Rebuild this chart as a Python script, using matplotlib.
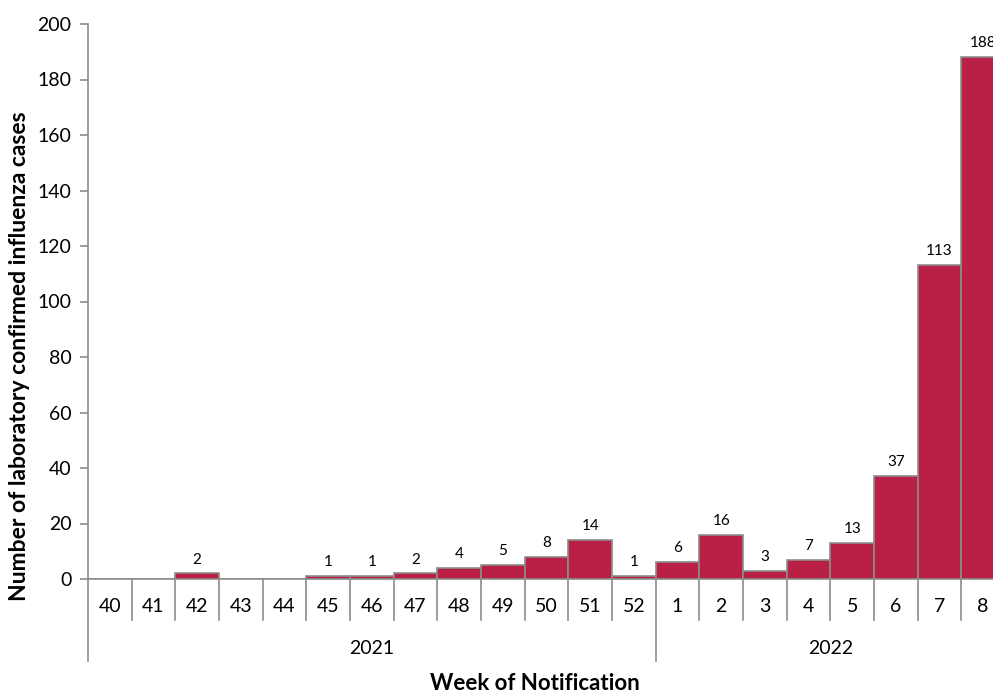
import matplotlib.pyplot as plt
from matplotlib.transforms import blended_transform_factory

# weekly counts of lab confirmed influenza, weeks 40/2021 .. 8/2022
weeks = ['40', '41', '42', '43', '44', '45', '46', '47', '48', '49', '50', '51', '52',
         '1', '2', '3', '4', '5', '6', '7', '8']
cases = [0, 0, 2, 0, 0, 1, 1, 2, 4, 5, 8, 14, 1, 6, 16, 3, 7, 13, 37, 113, 188]
years = ['2021', '2022']
year_start = [0, 13]   # index of first week in each year

plt.rcParams['font.family'] = ['Lato', 'DejaVu Sans']
GREY = '#8c8c8c'
BAR = '#BA1F45'

fig = plt.figure(figsize=(9.93, 6.92), dpi=100)
# axes runs past the right edge of the picture like the original (last bar is cut)
ax = fig.add_axes([88/993, 113/692, 917/993, 555/692])

x = list(range(len(weeks)))
ax.bar(x, cases, width=1.0, color=BAR, edgecolor=GREY, linewidth=1.2, zorder=3)
for xi, v in zip(x, cases):
  if v > 0:
    ax.annotate(str(v), (xi, v), xytext=(0, 5), textcoords='offset points',
                ha='center', va='bottom', fontsize=11)

ax.set_xlim(-0.5, len(weeks) - 0.5)
ax.set_ylim(0, 200)
ax.set_yticks(range(0, 201, 20))
ax.tick_params(axis='y', labelsize=14, color=GREY, length=6, width=1.2, pad=6)
ax.set_xticks([])
for s in ['top', 'right']:
  ax.spines[s].set_visible(False)
for s in ['left', 'bottom']:
  ax.spines[s].set_color(GREY)
  ax.spines[s].set_linewidth(1.2)

# two-level category axis drawn by hand
tr = blended_transform_factory(ax.transData, ax.transAxes)
h = 555.0
for xi, w in zip(x, weeks):
  ax.text(xi, -28/h, w, transform=tr, ha='center', va='center', fontsize=14)
for i in range(len(weeks) + 1):
  bottom = -41/h
  if i in year_start:
    bottom = -82/h
  ax.plot([i - 0.5, i - 0.5], [0, bottom], transform=tr, color=GREY, lw=1.2, clip_on=False)
ends = year_start[1:] + [len(weeks)]
for yname, a, b in zip(years, year_start, ends):
  ax.text((a + b - 1) / 2, -69/h, yname, transform=tr, ha='center', va='center', fontsize=14)

fig.text(535/993, 9/692, 'Week of Notification', ha='center', va='center',
         fontsize=16, fontweight='bold')
fig.text(20/993, 1 - 356/692, 'Number of laboratory confirmed influenza cases',
         rotation=90, ha='center', va='center', fontsize=16.5, fontweight='bold')

fig.savefig('out.png', dpi=100)
